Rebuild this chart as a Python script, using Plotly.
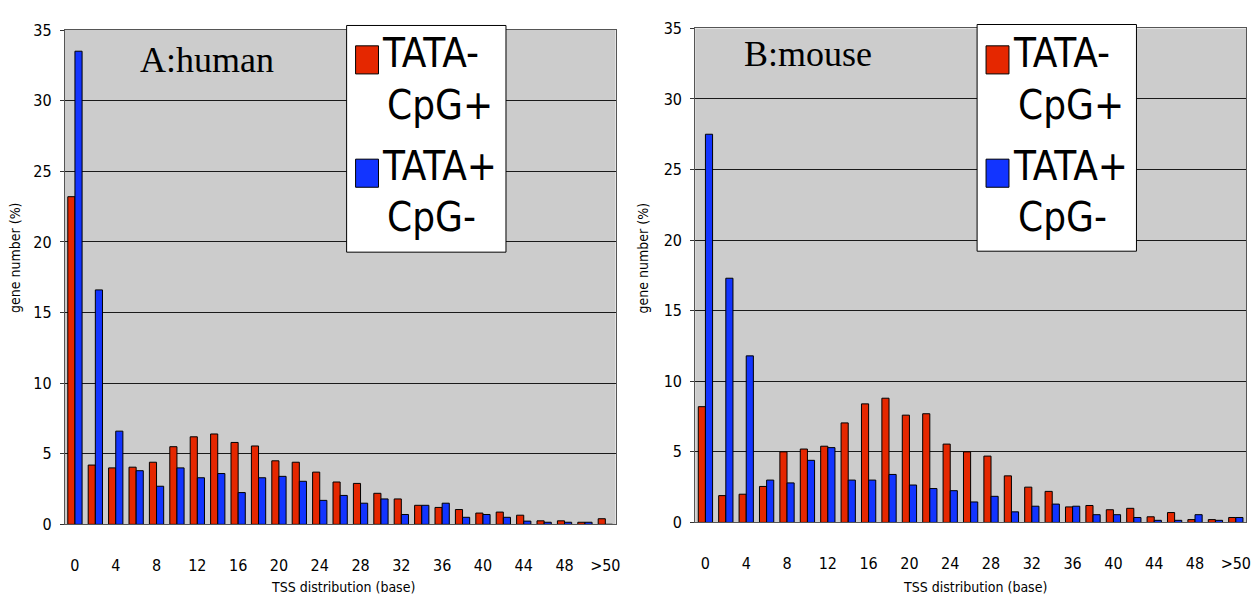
import plotly.graph_objects as go

# TSS distance bins (bases); every other bin gets a tick label
categories = [str(v) for v in range(0, 52, 2)] + [">50"]
tick_labels = categories[::2]

series_names = ["TATA-<br>CpG+", "TATA+<br>CpG-"]

# Panel A: human (% of genes)
human_tata_neg_cpg_pos = [23.2, 4.2, 4.0, 4.05, 4.4, 5.5, 6.2, 6.4, 5.8, 5.55, 4.5, 4.4, 3.7,
                          3.0, 2.9, 2.2, 1.8, 1.35, 1.2, 1.05, 0.8, 0.87, 0.65, 0.25, 0.25, 0.15, 0.4]
human_tata_pos_cpg_neg = [33.5, 16.6, 6.6, 3.8, 2.7, 4.0, 3.3, 3.6, 2.25, 3.3, 3.4, 3.05, 1.7,
                          2.05, 1.5, 1.8, 0.7, 1.35, 1.5, 0.5, 0.7, 0.5, 0.23, 0.15, 0.15, 0.15, 0.0]

# Panel B: mouse (% of genes)
mouse_tata_neg_cpg_pos = [8.2, 1.9, 2.0, 2.55, 5.0, 5.2, 5.4, 7.05, 8.4, 8.8, 7.6, 7.7, 5.55,
                          5.0, 4.7, 3.3, 2.5, 2.2, 1.1, 1.2, 0.9, 1.0, 0.4, 0.7, 0.2, 0.2, 0.35]
mouse_tata_pos_cpg_neg = [27.5, 17.3, 11.8, 3.0, 2.8, 4.4, 5.3, 3.0, 3.0, 3.4, 2.65, 2.4, 2.25,
                          1.45, 1.85, 0.75, 1.15, 1.3, 1.15, 0.55, 0.55, 0.35, 0.15, 0.15, 0.55, 0.15, 0.35]

panel_titles = ["A:human", "B:mouse"]

RED = "#E52700"
BLUE = "#1234FF"
COND = "DejaVu Sans Condensed, Liberation Sans Narrow, DejaVu Sans, sans-serif"
W, H = 1257, 608


def px(x):
    return x / W


def py(y):
    return 1 - y / H


fig = go.Figure()

panels = [
    (human_tata_neg_cpg_pos, human_tata_pos_cpg_neg, "x", "y"),
    (mouse_tata_neg_cpg_pos, mouse_tata_pos_cpg_neg, "x2", "y2"),
]
for red_vals, blue_vals, xa, ya in panels:
    for vals, color, name in ((red_vals, RED, series_names[0]), (blue_vals, BLUE, series_names[1])):
        fig.add_trace(go.Bar(
            x=categories, y=vals, name=name, xaxis=xa, yaxis=ya,
            marker=dict(color=color, line=dict(color="#000000", width=1)),
            showlegend=False,
        ))

# plot-area boxes in pixels: (left, right, top, bottom)
boxes = [(65, 618, 21.7, 532), (698, 1251, 20, 530)]

xaxis_common = dict(
    type="category", categoryorder="array", categoryarray=categories,
    tickmode="array", tickvals=tick_labels, ticktext=tick_labels,
    showgrid=False, showline=True, linecolor="#555555", linewidth=1, mirror=True,
    ticks="", ticklabelstandoff=26,
    tickfont=dict(family=COND, size=16, color="#000000"),
    range=[-0.5, len(categories) - 0.5],
)
yaxis_common = dict(
    range=[0, 35], dtick=5, showgrid=True, gridcolor="#1a1a1a", gridwidth=1,
    showline=True, linecolor="#555555", linewidth=1, mirror=True,
    ticks="outside", ticklen=4, tickcolor="#333333", ticklabelstandoff=5,
    tickfont=dict(family=COND, size=16, color="#000000"),
    zeroline=False,
)

l, r, t, b = boxes[0]
fig.update_layout(
    xaxis=dict(domain=[px(l), px(r)], anchor="y", **xaxis_common),
    yaxis=dict(domain=[py(b), py(t)], anchor="x", **yaxis_common),
)
l, r, t, b = boxes[1]
fig.update_layout(
    xaxis2=dict(domain=[px(l), px(r)], anchor="y2", **xaxis_common),
    yaxis2=dict(domain=[py(b), py(t)], anchor="x2", **yaxis_common),
)

annotations = []
shapes = []

# gray plotting backgrounds
for (l, r, t, b) in boxes:
    shapes.append(dict(type="rect", xref="paper", yref="paper", layer="below",
                       x0=px(l), x1=px(r), y0=py(b), y1=py(t),
                       fillcolor="#CCCCCC", line=dict(width=0)))

# panel titles
for text, cx, cy in ((panel_titles[0], 208, 53), (panel_titles[1], 811, 46)):
    annotations.append(dict(text=text, xref="paper", yref="paper", x=px(cx), y=py(cy),
                            showarrow=False, xanchor="center", yanchor="middle",
                            font=dict(family="Liberation Serif, Times New Roman, serif",
                                      size=36, color="#000000")))

# axis titles
for cx in (344, 979):
    annotations.append(dict(text="TSS distribution (base)", xref="paper", yref="paper",
                            x=px(cx), y=py(597), showarrow=False,
                            xanchor="center", yanchor="middle",
                            font=dict(family=COND, size=14, color="#000000")))
for cx in (15, 646):
    annotations.append(dict(text="gene number (%)", xref="paper", yref="paper",
                            x=px(cx), y=py(257), showarrow=False, textangle=-90,
                            xanchor="center", yanchor="middle",
                            font=dict(family=COND, size=14, color="#000000")))

# legend boxes drawn with shapes and text
legends = [
    dict(box=(348, 508, 17, 251), dx=0),
    dict(box=(981, 1141, 16, 250), dx=633),
]
for lg in legends:
    x0, x1, y0, y1 = lg["box"]
    dx = lg["dx"]
    shapes.append(dict(type="rect", xref="paper", yref="paper",
                       x0=px(x0), x1=px(x1), y0=py(y1), y1=py(y0),
                       fillcolor="#FFFFFF", line=dict(color="#000000", width=1)))
    for (sy0, sy1, color) in ((38, 67, RED), (155, 184, BLUE)):
        shapes.append(dict(type="rect", xref="paper", yref="paper",
                           x0=px(357 + dx), x1=px(380 + dx), y0=py(sy1), y1=py(sy0),
                           fillcolor=color, line=dict(color="#000000", width=1)))
    for text, lx, cy in (("TATA-", 382, 45), ("CpG+", 387, 99),
                         ("TATA+", 382, 162), ("CpG-", 387, 215)):
        annotations.append(dict(text=text, xref="paper", yref="paper",
                                x=px(lx + dx), y=py(cy), showarrow=False,
                                xanchor="left", yanchor="middle",
                                font=dict(family=COND, size=40, color="#000000")))

fig.update_layout(
    width=W, height=H,
    margin=dict(l=0, r=0, t=0, b=0),
    paper_bgcolor="#FFFFFF", plot_bgcolor="rgba(0,0,0,0)",
    barmode="group", bargap=0.3, bargroupgap=0,
    annotations=annotations, shapes=shapes,
    showlegend=False,
)

fig.write_html("out.html")
